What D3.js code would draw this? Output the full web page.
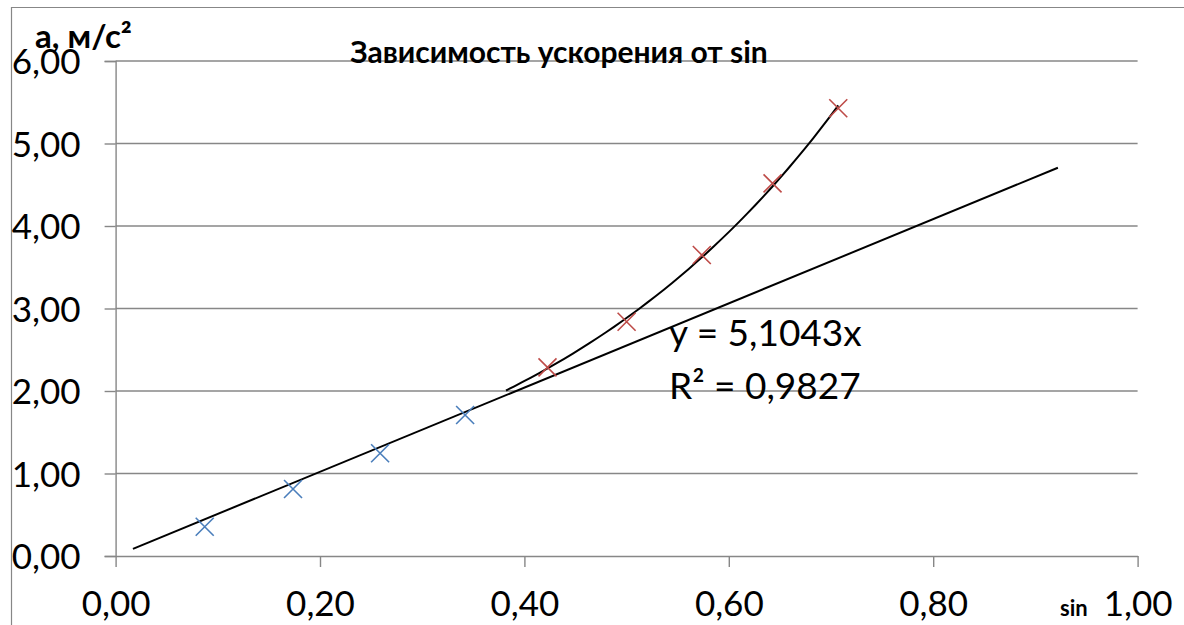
<!DOCTYPE html>
<html><head><meta charset="utf-8">
<script src="https://cdn.jsdelivr.net/npm/d3@7"></script>
<style>
html,body{margin:0;padding:0;background:#fff;}
svg{display:block;font-family:Lato,"Open Sans",sans-serif;}
</style></head>
<body>
<svg id="c" width="1184" height="625"></svg>
<script>
// Data
const blueX = [0.0872, 0.1736, 0.2588, 0.3420];
const blueY = [0.355, 0.812, 1.245, 1.709];
const redX = [0.4226, 0.5000, 0.5736, 0.6428, 0.7071];
const redY = [2.287, 2.840, 3.648, 4.517, 5.427];
const xTicks = [0, 0.2, 0.4, 0.6, 0.8, 1.0];
const yTicks = [0, 1, 2, 3, 4, 5, 6];
const linSlope = 5.1043;
const linRange = [0.017, 0.922];
const expRange = [0.382, 0.7071];
const title = "Зависимость ускорения от sin";
const yTitle = "а, м/с²";
const xTitle = "sin";
const eqText = ["y = 5,1043x", "R² = 0,9827"];

const svg = d3.select("#c");
const x = d3.scaleLinear().domain([0, 1]).range([115.6, 1137.6]);
const y = d3.scaleLinear().domain([0, 6]).range([556, 61]);
const fmt = d => d3.format(".2f")(d).replace(".", ",");
const gridC = "#878787";

// outer border (partial)
svg.append("line").attr("x1", 11).attr("x2", 1184).attr("y1", 7.5).attr("y2", 7.5).attr("stroke", gridC).attr("stroke-width", 1.2);
svg.append("line").attr("x1", 11.5).attr("x2", 11.5).attr("y1", 7).attr("y2", 625).attr("stroke", gridC).attr("stroke-width", 1.2);

// gridlines
svg.append("g").selectAll("line").data(yTicks.filter(d => d > 0)).join("line")
  .attr("x1", x(0)).attr("x2", x(1)).attr("y1", d => y(d)).attr("y2", d => y(d))
  .attr("stroke", gridC).attr("stroke-width", 1.4);

// y axis
const ya = svg.append("g").attr("transform", `translate(${x(0)},0)`)
  .call(d3.axisLeft(y).tickValues(yTicks).tickFormat(fmt).tickSize(11).tickPadding(24));
ya.select(".domain").attr("stroke", gridC).attr("stroke-width", 1.4);
ya.selectAll(".tick line").attr("stroke", gridC).attr("stroke-width", 1.4);
ya.selectAll("text").attr("font-size", 35).attr("font-family", "Lato").attr("fill", "#000").attr("dy", "0.36em");

// x axis
const xa = svg.append("g").attr("transform", `translate(0,${y(0)})`)
  .call(d3.axisBottom(x).tickValues(xTicks).tickFormat(fmt).tickSize(11).tickSizeOuter(0).tickPadding(24));
xa.select(".domain").attr("stroke", gridC).attr("stroke-width", 1.4);
xa.selectAll(".tick line").attr("stroke", gridC).attr("stroke-width", 1.4);
xa.selectAll("text").attr("font-size", 35).attr("font-family", "Lato").attr("fill", "#000");

// linear trendline
const line = d3.line().x(d => x(d[0])).y(d => y(d[1]));
svg.append("path").datum(linRange.map(v => [v, linSlope * v]))
  .attr("d", line).attr("fill", "none").attr("stroke", "#000").attr("stroke-width", 2);

// exponential trendline fitted to red series
const n = redX.length;
const mx = d3.mean(redX), ml = d3.mean(redY.map(Math.log));
let sxy = 0, sxx = 0;
for (let i = 0; i < n; i++) { sxy += (redX[i] - mx) * (Math.log(redY[i]) - ml); sxx += (redX[i] - mx) ** 2; }
const b = sxy / sxx, a = Math.exp(ml - b * mx);
const curvePts = d3.range(0, 41).map(i => { const xv = expRange[0] + (expRange[1] - expRange[0]) * i / 40; return [xv, a * Math.exp(b * xv)]; });
svg.append("path").datum(curvePts).attr("d", d3.line().x(d => x(d[0])).y(d => y(d[1])).curve(d3.curveBasis))
  .attr("fill", "none").attr("stroke", "#000").attr("stroke-width", 2);

// markers
function markers(xs, ys, color) {
  const s = 9;
  const g = svg.append("g");
  xs.forEach((xv, i) => {
    const cx = x(xv), cy = y(ys[i]);
    g.append("path").attr("d", `M${cx - s},${cy - s}L${cx + s},${cy + s}M${cx - s},${cy + s}L${cx + s},${cy - s}`)
      .attr("stroke", color).attr("stroke-width", 1.6).attr("fill", "none");
  });
}
markers(blueX, blueY, "#4a7ebb");
markers(redX, redY, "#be4b48");

// texts
svg.append("text").attr("x", 559).attr("y", 63).attr("text-anchor", "middle")
  .attr("font-size", 30).attr("font-weight", "bold").text(title);
svg.append("text").attr("x", 35).attr("y", 48).attr("font-size", 33).attr("font-weight", "bold").text(yTitle);
svg.append("text").attr("x", 1060).attr("y", 616).attr("font-size", 22).attr("font-weight", "bold").text(xTitle);
svg.append("g").selectAll("text").data(eqText).join("text")
  .attr("x", 669).attr("y", (d, i) => 346 + i * 53).attr("font-size", 37).text(d => d);
</script>
</body></html>
